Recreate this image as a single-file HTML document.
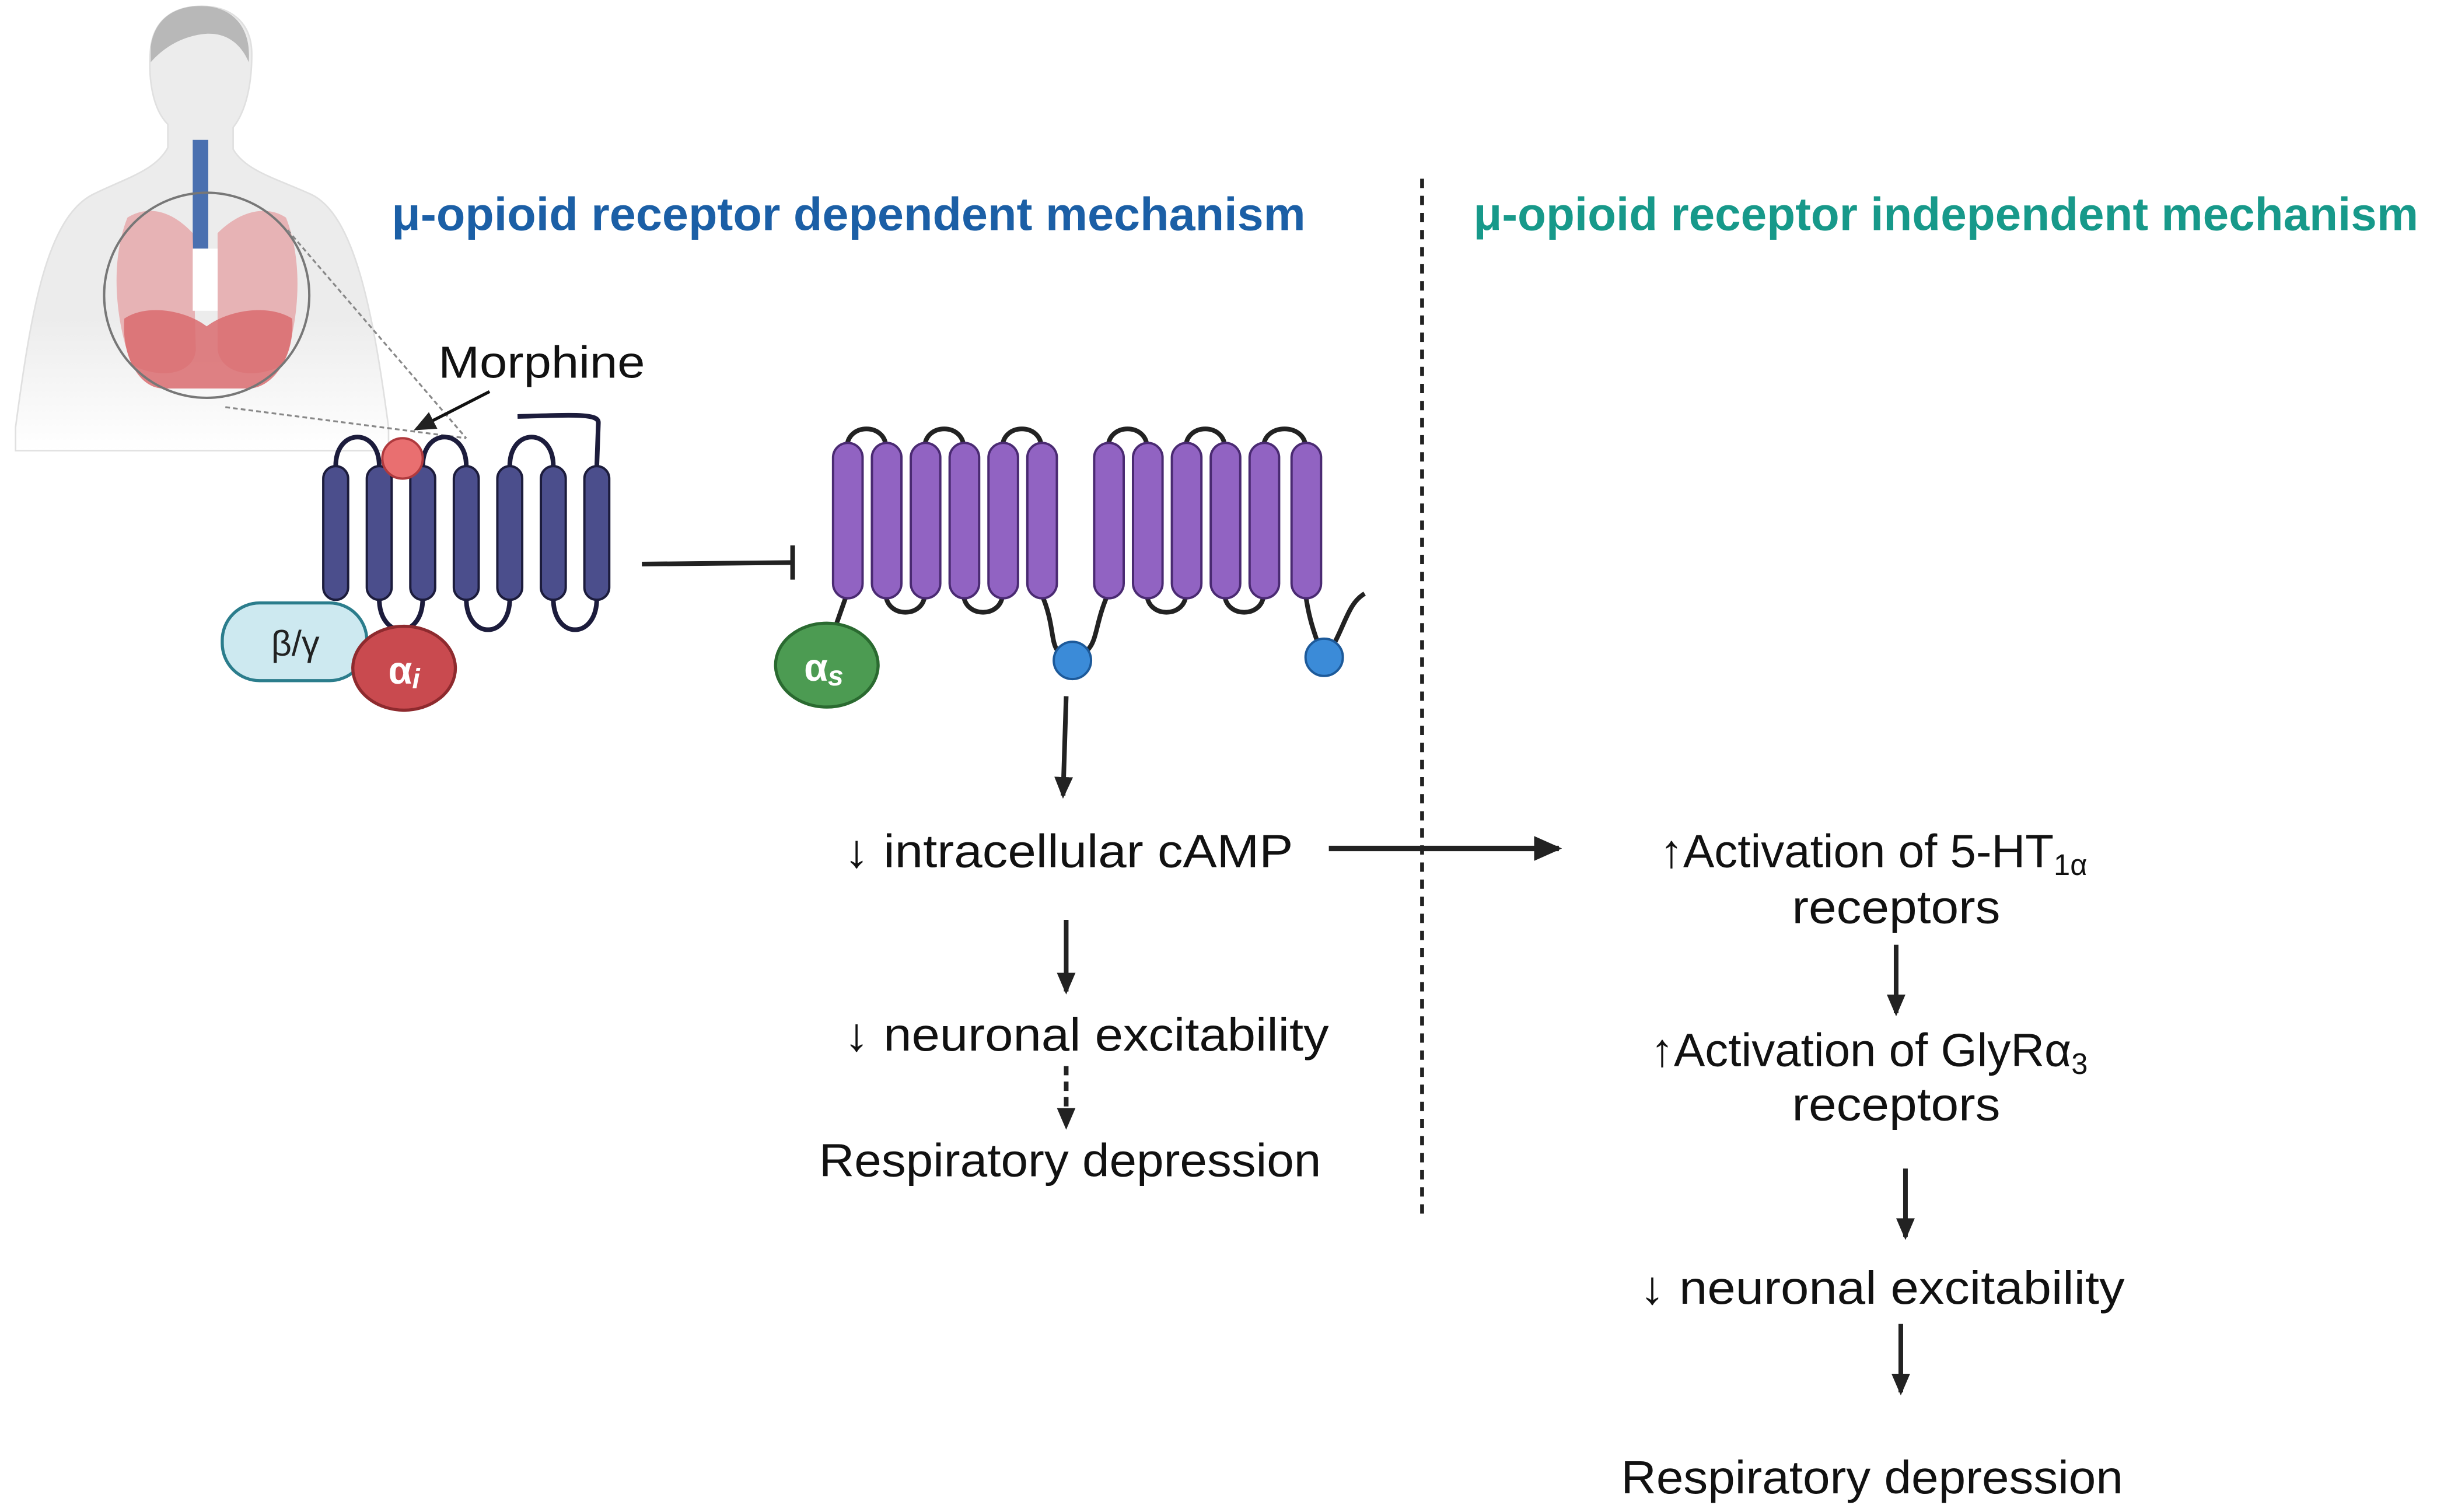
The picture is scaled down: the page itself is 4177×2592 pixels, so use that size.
<!DOCTYPE html>
<html><head><meta charset="utf-8"><style>
html,body{margin:0;padding:0;background:#fff;}
svg{display:block;}
text{font-family:"Liberation Sans",sans-serif;}
</style></head><body>
<svg width="4177" height="2592" viewBox="0 0 1568 973" xmlns="http://www.w3.org/2000/svg">
<defs>
<marker id="ah" markerWidth="14" markerHeight="14" refX="12" refY="7" orient="auto" markerUnits="userSpaceOnUse"><path d="M0,1 L14,7 L0,13 Z" fill="#222"/></marker>
<marker id="ah2" markerWidth="18" markerHeight="18" refX="16" refY="9" orient="auto" markerUnits="userSpaceOnUse"><path d="M0,1 L18,9 L0,17 Z" fill="#222"/></marker>
<linearGradient id="fade" x1="0" y1="0" x2="0" y2="1"><stop offset="0.7" stop-color="#ececec"/><stop offset="1" stop-color="#fff"/></linearGradient>
</defs>
<g>
<path d="M10,275 C20,200 30,140 60,125 C80,115 100,110 108,95 L108,80 C98,70 95,50 97,30 C100,10 115,4 130,4 C148,4 162,14 162,35 C162,55 158,72 150,82 L150,96 C158,110 178,115 200,125 C228,138 240,200 250,275 L250,290 L10,290 Z" fill="url(#fade)" stroke="#e0e0e0" stroke-width="1"/>
<path d="M97,30 C100,8 118,3 132,4 C150,5 162,18 160,40 C155,28 145,20 130,22 C115,24 104,32 97,40 Z" fill="#b8b8b8"/>
<rect x="124" y="90" width="10" height="70" fill="#4a70b0"/>
<path d="M82,140 C70,170 75,210 85,235 C105,245 125,240 126,225 L124,150 C110,135 95,132 82,140 Z" fill="#e6a5a8" opacity="0.8"/>
<path d="M184,140 C196,170 192,210 182,235 C162,245 142,240 140,225 L140,150 C155,135 172,132 184,140 Z" fill="#e6a5a8" opacity="0.8"/>
<path d="M80,205 C95,195 120,200 133,210 C146,200 172,195 188,205 C190,230 175,250 160,250 L105,250 C90,250 78,230 80,205 Z" fill="#d96b6f" opacity="0.85"/>
<rect x="124" y="160" width="16" height="40" fill="#fff"/>
<circle cx="133" cy="190" r="66" fill="none" stroke="#777" stroke-width="1.5"/>
<line x1="185" y1="148" x2="300" y2="282" stroke="#888" stroke-width="1.2" stroke-dasharray="3,2"/>
<line x1="145" y1="262" x2="300" y2="282" stroke="#888" stroke-width="1.2" stroke-dasharray="3,2"/>
</g>
<text x="252" y="148" font-size="30" font-weight="bold" fill="#1b5fa6" textLength="588" lengthAdjust="spacingAndGlyphs">μ-opioid receptor dependent  mechanism</text>
<text x="948" y="148" font-size="30" font-weight="bold" fill="#17998a" textLength="608" lengthAdjust="spacingAndGlyphs">μ-opioid receptor independent mechanism</text>
<line x1="915" y1="115" x2="915" y2="785" stroke="#222" stroke-width="2.5" stroke-dasharray="6,5"/>
<text x="282" y="243" font-size="29" fill="#111" textLength="133" lengthAdjust="spacingAndGlyphs">Morphine</text>
<line x1="315" y1="252" x2="268" y2="276" stroke="#111" stroke-width="2" marker-end="url(#ah)"/>
<g stroke="#1c1c3c" stroke-width="3" fill="none">
<path d="M216,300 C216,275 244,275 244,300"/>
<path d="M272,300 C272,275 300,275 300,300"/>
<path d="M328,300 C328,275 356,275 356,300"/>
<path d="M244,385 C244,412 272,412 272,385"/>
<path d="M300,385 C300,412 328,412 328,385"/>
<path d="M356,385 C356,412 384,412 384,385"/>
<path d="M384,300 L385,272 C385,266 370,267 333,268"/>
</g>
<g fill="#4b4e8c" stroke="#1c1c3c" stroke-width="1.5">
<rect x="208" y="300" width="16" height="86" rx="8"/>
<rect x="236" y="300" width="16" height="86" rx="8"/>
<rect x="264" y="300" width="16" height="86" rx="8"/>
<rect x="292" y="300" width="16" height="86" rx="8"/>
<rect x="320" y="300" width="16" height="86" rx="8"/>
<rect x="348" y="300" width="16" height="86" rx="8"/>
<rect x="376" y="300" width="16" height="86" rx="8"/>
</g>
<circle cx="259" cy="295" r="13" fill="#e96f70" stroke="#b03a3e" stroke-width="1.5"/>
<rect x="143" y="388" width="93" height="50" rx="24" fill="#cde9f0" stroke="#2b7d8c" stroke-width="2"/>
<text x="190" y="422" font-size="23" text-anchor="middle" fill="#222">β/γ</text>
<ellipse cx="260" cy="430" rx="33" ry="27" fill="#c94a4f" stroke="#8e2a2e" stroke-width="2"/>
<text x="260" y="440" font-size="25" font-weight="bold" text-anchor="middle" fill="#fff">α<tspan font-size="18" font-style="italic" dy="3">i</tspan></text>
<line x1="413" y1="363" x2="510" y2="362" stroke="#222" stroke-width="3"/>
<line x1="510" y1="351" x2="510" y2="373" stroke="#222" stroke-width="3"/>
<g stroke="#222" stroke-width="3" fill="none">
<path d="M545,288 C545,272 570,272 570,288"/>
<path d="M595,288 C595,272 620,272 620,288"/>
<path d="M645,288 C645,272 670,272 670,288"/>
<path d="M713,288 C713,272 738,272 738,288"/>
<path d="M763,288 C763,272 788,272 788,288"/>
<path d="M813,288 C813,272 840,272 840,288"/>
<path d="M570,382 C570,398 595,398 595,382"/>
<path d="M620,382 C620,398 645,398 645,382"/>
<path d="M738,382 C738,398 763,398 763,382"/>
<path d="M788,382 C788,398 813,398 813,382"/>
<path d="M545,382 L538,402"/>
<path d="M670,382 C678,400 676,412 680,418"/>
<path d="M713,382 C705,400 706,412 700,418"/>
<path d="M840,382 C842,398 846,408 848,414"/>
<path d="M858,415 C866,400 868,388 878,382"/>
</g>
<g fill="#9163c2" stroke="#4a2a72" stroke-width="1.5">
<rect x="536" y="285" width="19" height="100" rx="9.5"/>
<rect x="561" y="285" width="19" height="100" rx="9.5"/>
<rect x="586" y="285" width="19" height="100" rx="9.5"/>
<rect x="611" y="285" width="19" height="100" rx="9.5"/>
<rect x="636" y="285" width="19" height="100" rx="9.5"/>
<rect x="661" y="285" width="19" height="100" rx="9.5"/>
<rect x="704" y="285" width="19" height="100" rx="9.5"/>
<rect x="729" y="285" width="19" height="100" rx="9.5"/>
<rect x="754" y="285" width="19" height="100" rx="9.5"/>
<rect x="779" y="285" width="19" height="100" rx="9.5"/>
<rect x="804" y="285" width="19" height="100" rx="9.5"/>
<rect x="831" y="285" width="19" height="100" rx="9.5"/>
</g>
<ellipse cx="532" cy="428" rx="33" ry="27" fill="#4c9b52" stroke="#2a6a30" stroke-width="2"/>
<text x="530" y="438" font-size="25" font-weight="bold" text-anchor="middle" fill="#fff">α<tspan font-size="18" font-style="italic" dy="3">s</tspan></text>
<circle cx="690" cy="425" r="12" fill="#3b8bd8" stroke="#1d5a9a" stroke-width="1.5"/>
<circle cx="852" cy="423" r="12" fill="#3b8bd8" stroke="#1d5a9a" stroke-width="1.5"/>
<g stroke="#222" stroke-width="3">
<line x1="686" y1="448" x2="684" y2="512" marker-end="url(#ah)"/>
<line x1="686" y1="592" x2="686" y2="638" marker-end="url(#ah)"/>
<line x1="686" y1="686" x2="686" y2="725" stroke-dasharray="6,4" marker-end="url(#ah)"/>
<line x1="855" y1="546" x2="1003" y2="546" stroke-width="3.5" marker-end="url(#ah2)"/>
<line x1="1220" y1="608" x2="1220" y2="652" marker-end="url(#ah)"/>
<line x1="1226" y1="752" x2="1226" y2="796" marker-end="url(#ah)"/>
<line x1="1223" y1="852" x2="1223" y2="896" marker-end="url(#ah)"/>
</g>
<g font-size="30" fill="#111" lengthAdjust="spacingAndGlyphs">
<text x="543" y="558" textLength="289" lengthAdjust="spacingAndGlyphs">↓ intracellular cAMP</text>
<text x="543" y="676" textLength="312" lengthAdjust="spacingAndGlyphs">↓ neuronal excitability</text>
<text x="527" y="757" textLength="323" lengthAdjust="spacingAndGlyphs">Respiratory depression</text>
<text x="1068" y="558">↑Activation of  5-HT<tspan font-size="19" dy="5">1α</tspan></text>
<text x="1153" y="594" textLength="134" lengthAdjust="spacingAndGlyphs">receptors</text>
<text x="1062" y="686">↑Activation  of  GlyRα<tspan font-size="19" dy="5">3</tspan></text>
<text x="1153" y="721" textLength="134" lengthAdjust="spacingAndGlyphs">receptors</text>
<text x="1055" y="839" textLength="312" lengthAdjust="spacingAndGlyphs">↓ neuronal excitability</text>
<text x="1043" y="961" textLength="323" lengthAdjust="spacingAndGlyphs">Respiratory depression</text>
</g>
</svg>
</body></html>
